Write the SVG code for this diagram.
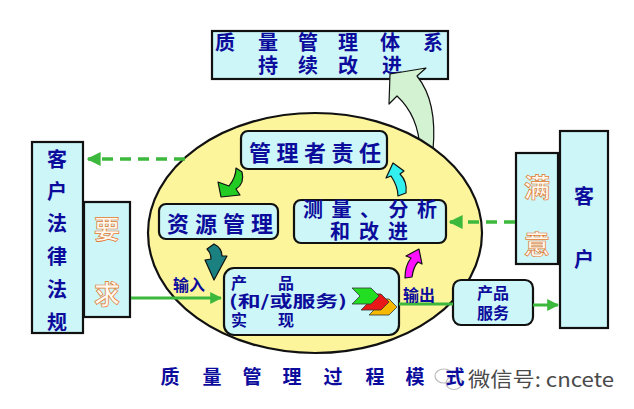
<svg xmlns="http://www.w3.org/2000/svg" width="634" height="409" viewBox="0 0 634 409">
<defs>
<style>
.box{fill:#ccf6f8;stroke:#111;stroke-width:2.2}
.t{font-family:"Noto Sans CJK SC","Liberation Sans",sans-serif;font-weight:bold;fill:#0c0c9c;text-anchor:middle;dominant-baseline:central}
.ts{font-family:"Noto Sans CJK SC","Liberation Sans",sans-serif;font-weight:bold;fill:#0c0c9c;dominant-baseline:central}
.hol{font-family:"Noto Sans CJK SC",sans-serif;font-weight:bold;fill:#fff8ee;stroke:#e07a30;stroke-width:0.7;text-anchor:middle;dominant-baseline:central}
.g{stroke:#3cb83c;stroke-width:3;fill:none}
.gd{stroke:#3cb83c;stroke-width:3.5;fill:none;stroke-dasharray:11 7}
.ca{stroke:#111;stroke-width:1.2;stroke-linejoin:round}
</style>
<marker id="ah" viewBox="0 0 10 10" refX="9" refY="5" markerWidth="4" markerHeight="4" orient="auto-start-reverse" markerUnits="strokeWidth">
<path d="M0,0 L10,5 L0,10 Z" fill="#3cb83c"/>
</marker>
</defs>
<rect width="634" height="409" fill="#fff"/>

<g id="top-box">
<rect class="box" x="212" y="31" width="236" height="48"/>
<text class="t" font-size="20" x="225 268 308 348 390 433" y="41">质量管理体系</text>
<text class="t" font-size="20" x="268 308 348 392" y="64">持续改进</text>
</g>

<g id="big-arrow">
<path class="ca" fill="#d2f2d2" d="M420,150 C419,125 410,108 397,96 L389,104 L390,74 L426,68 L417,76 C430,92 436,118 433,150 Z"/>
</g>

<g id="ellipse">
<ellipse cx="315" cy="233" rx="167" ry="120" fill="#fcf59c" stroke="#111" stroke-width="2.2"/>
</g>

<g id="left-customer">
<rect class="box" x="32" y="142" width="51" height="191"/>
<text class="t" font-size="20" x="57" y="158">客</text>
<text class="t" font-size="20" x="57" y="190">户</text>
<text class="t" font-size="20" x="57" y="222">法</text>
<text class="t" font-size="20" x="57" y="255">律</text>
<text class="t" font-size="20" x="57" y="288">法</text>
<text class="t" font-size="20" x="57" y="321">规</text>
</g>

<g id="requirement">
<rect class="box" x="84" y="202" width="46" height="115"/>
<text class="hol" font-size="26" x="107" y="227">要</text>
<text class="hol" font-size="26" x="107" y="292">求</text>
</g>

<g id="right-customer">
<rect class="box" x="560" y="131" width="48" height="197"/>
<text class="t" font-size="20" x="584" y="195">客</text>
<text class="t" font-size="20" x="584" y="258">户</text>
</g>

<g id="satisfaction">
<rect class="box" x="516" y="153" width="42" height="111"/>
<text class="hol" font-size="26" x="537" y="185">满</text>
<text class="hol" font-size="26" x="537" y="242">意</text>
</g>

<g id="mgmt-resp">
<rect class="box" x="241" y="131" width="146" height="38" rx="7"/>
<text class="t" font-size="22" x="315" y="151" textLength="132" lengthAdjust="spacing">管理者责任</text>
</g>

<g id="resource">
<rect class="box" x="159" y="204" width="119" height="35" rx="7"/>
<text class="t" font-size="22" x="220" y="222" textLength="106" lengthAdjust="spacing">资源管理</text>
</g>

<g id="measure">
<rect class="box" x="294" y="200" width="152" height="43" rx="7"/>
<text class="t" font-size="20" x="370" y="208" textLength="134" lengthAdjust="spacing">测量、分析</text>
<text class="t" font-size="20" x="369" y="230" textLength="78" lengthAdjust="spacing">和改进</text>
</g>

<g id="product">
<rect class="box" x="224" y="268" width="175" height="67" rx="10"/>
<text class="ts" font-size="16" x="231 278" y="282">产品</text>
<text class="ts" font-size="16" x="229" y="300" textLength="118" lengthAdjust="spacingAndGlyphs">(和/或服务)</text>
<text class="ts" font-size="16" x="231 278" y="319">实现</text>
<path d="M369,299 L389,299 L397,307 L389,315 L369,315 L377,307 Z" fill="#f7b800" stroke="#333" stroke-width="0.8"/>
<path d="M361,294 L381,294 L389,302 L381,310 L361,310 L369,302 Z" fill="#e81818" stroke="#333" stroke-width="0.8"/>
<path d="M352,288 L371,288 L379,296 L371,304 L352,304 L360,296 Z" fill="#22dd22" stroke="#333" stroke-width="0.8"/>
</g>

<g id="product-service">
<rect class="box" x="453" y="280" width="80" height="45" rx="8"/>
<text class="t" font-size="16" x="493" y="292">产品</text>
<text class="t" font-size="16" x="493" y="312">服务</text>
</g>

<g id="connectors">
<line class="gd" x1="185" y1="159" x2="88" y2="159" marker-end="url(#ah)"/>
<line class="gd" x1="515" y1="222" x2="450" y2="222" marker-end="url(#ah)"/>
<line class="g" x1="131" y1="298" x2="221" y2="298" marker-end="url(#ah)"/>
<line class="g" x1="399" y1="304" x2="453" y2="304"/>
<line class="g" x1="533" y1="305" x2="558" y2="305" marker-end="url(#ah)"/>
<path class="ca" fill="#22cc22" d="M236,168 L242,172 C244,180 241,186 236,189 L240,195 L221,197 L218,182 L229,186 C233,181 236,175 236,168 Z"/>
<path class="ca" fill="#33f0ee" d="M398,196 L406,193 C407,185 404,178 400,174 L404,171 L393,163 L386,178 L391,176 C395,182 398,188 398,196 Z"/>
<path class="ca" fill="#1a8080" d="M207,249 L214,244 C220,247 222,252 222,256 L227,256 L214,280 L205,260 L211,259 C211,255 210,252 207,249 Z"/>
<path class="ca" fill="#ff10ff" d="M405,278 L412,277 C413,270 415,265 418,262 L422,264 L419,249 L406,256 L411,258 C407,263 405,270 405,278 Z"/>
<text class="ts" font-size="16" x="173" y="284">输入</text>
<text class="ts" font-size="16" x="403" y="294">输出</text>
</g>

<g id="watermark">
<ellipse cx="444" cy="376" rx="9" ry="7" fill="none" stroke="#bbb" stroke-width="1.2"/>
<ellipse cx="454" cy="383" rx="8" ry="6.5" fill="none" stroke="#bbb" stroke-width="1.2"/>
<text x="468" y="378" font-family="'Noto Sans CJK SC','Liberation Sans',sans-serif" font-size="20" fill="#4a4a4a" dominant-baseline="central" textLength="146" lengthAdjust="spacingAndGlyphs">微信号: cncete</text>
</g>

<g id="title">
<text class="t" font-size="19" x="170 212 252 292 333 375 415 455" y="375">质量管理过程模式</text>
</g>
</svg>
